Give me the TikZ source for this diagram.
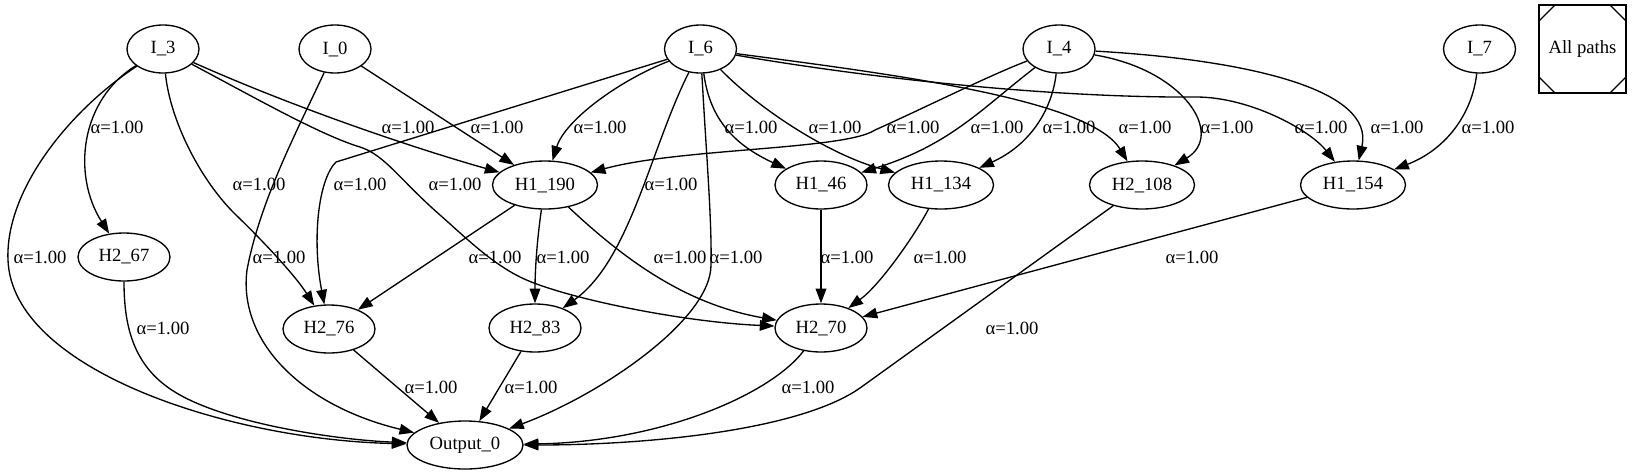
\documentclass[tikz,border=0pt]{standalone}
\usepackage{fontspec}
\setmainfont{Liberation Serif}
\usetikzlibrary{arrows.meta,calc,shapes.geometric}
\begin{document}
\begin{tikzpicture}[x=0.75pt,y=-0.75pt,
  every node/.style={font=\fontsize{14pt}{16pt}\selectfont, inner sep=0pt},
  nd/.style={draw, ellipse, line width=1pt, minimum height=36pt, minimum width=54pt},
  wmid/.style={minimum width=69pt},
  wbig/.style={minimum width=78.75pt},
  edge/.style={line width=1pt, -{Triangle[length=11pt,width=8pt]}},
  lbl/.style={}]
\useasboundingbox (0,0) rectangle (1633,475);

% input layer
\node[nd] (I3) at (163,49) {I\_3};
\node[nd] (I0) at (335,49) {I\_0};
\node[nd] (I6) at (700.5,49) {I\_6};
\node[nd] (I4) at (1059,49) {I\_4};
\node[nd] (I7) at (1479.5,49) {I\_7};
\node[draw, line width=1pt, outer sep=0pt, minimum width=65.25pt, minimum height=66pt] (AP) at (1582.5,49) {All paths};
\draw[line width=1pt] ($(AP.north west)+(0,16)$) -- ($(AP.north west)+(16,0)$);
\draw[line width=1pt] ($(AP.north east)+(0,16)$) -- ($(AP.north east)+(-16,0)$);
\draw[line width=1pt] ($(AP.south west)+(0,-16)$) -- ($(AP.south west)+(16,0)$);
\draw[line width=1pt] ($(AP.south east)+(0,-16)$) -- ($(AP.south east)+(-16,0)$);

% hidden layers
\node[nd,wbig] (H1190) at (545,185) {H1\_190};
\node[nd,wmid] (H146) at (821,185) {H1\_46};
\node[nd,wbig] (H1134) at (941,185) {H1\_134};
\node[nd,wbig] (H2108) at (1142,185) {H2\_108};
\node[nd,wbig] (H1154) at (1353,185) {H1\_154};
\node[nd,wmid] (H267) at (124,257) {H2\_67};
\node[nd,wmid] (H276) at (329,329) {H2\_76};
\node[nd,wmid] (H283) at (535,328) {H2\_83};
\node[nd,wmid] (H270) at (821,328) {H2\_70};
\node[nd,minimum width=87pt] (Out) at (465,445) {Output\_0};

% edges from I_3
\draw[edge] (I3) .. controls (80,100) and (72,175) .. (H267);
\draw[edge] (I3) .. controls (70,110) and (5,190) .. (8,260) .. controls (12,370) and (230,440) .. (Out);
\draw[edge] (I3) .. controls (170,120) and (200,180) .. (236,215) .. controls (260,238) and (295,275) .. (H276);
\draw[edge] (I3) .. controls (300,110) and (420,150) .. (H1190);
\draw[edge] (I3) .. controls (250,95) and (320,135) .. (360,147) .. controls (385,155) and (400,180) .. (440,215) .. controls (465,237) and (490,262) .. (520,277) .. controls (560,297) and (680,322) .. (H270);
% edges from I_0
\draw[edge] (I0) -- (H1190);
\draw[edge] (I0) .. controls (300,125) and (260,200) .. (247,270) .. controls (238,340) and (300,405) .. (Out);
% edges from I_6
\coordinate (b6) at (336,162);
\draw[edge] (I6) -- (b6) .. controls (318,180) and (312,240) .. (H276);
\draw[edge] (I6) .. controls (620,80) and (565,120) .. (H1190);
\draw[edge] (I6) .. controls (650,150) and (630,260) .. (H283);
\draw[edge] (I6) .. controls (706,150) and (712,220) .. (711,265) .. controls (711,320) and (600,395) .. (Out);
\draw[edge] (I6) .. controls (710,120) and (735,145) .. (H146);
\draw[edge] (I6) .. controls (760,110) and (830,155) .. (H1134);
\draw[edge] (I6) .. controls (900,75) and (1090,100) .. (H2108);
\draw[edge] (I6) .. controls (880,80) and (1060,98) .. (1196,97) .. controls (1250,97) and (1310,130) .. (H1154);
% edges from I_4
\draw[edge] (I4) .. controls (990,75) and (920,110) .. (875,130) .. controls (845,150) and (680,148) .. (H1190);
\draw[edge] (I4) .. controls (980,110) and (950,145) .. (H146);
\draw[edge] (I4) .. controls (1052,110) and (1030,145) .. (H1134);
\draw[edge] (I4) .. controls (1185,70) and (1225,135) .. (H2108);
\draw[edge] (I4) .. controls (1250,60) and (1375,90) .. (H1154);
% edge from I_7
\draw[edge] (I7) .. controls (1472,115) and (1445,150) .. (H1154);
% hidden to hidden
\draw[edge] (H1190) -- (H276);
\draw[edge] (H1190) .. controls (537,240) and (535,270) .. (H283);
\draw[edge] (H1190) .. controls (630,265) and (690,305) .. (H270);
\draw[edge] (H146) -- (H270);
\draw[edge] (H1134) .. controls (915,235) and (880,285) .. (H270);
\draw[edge] (H1154) -- (H270);
% to output
\draw[edge] (H2108) -- (860,388) .. controls (800,430) and (650,445) .. (Out);
\draw[edge] (H267) .. controls (124,330) and (135,370) .. (180,395) .. controls (234,425) and (340,440) .. (Out);
\draw[edge] (H276) -- (Out);
\draw[edge] (H283) -- (Out);
\draw[edge] (H270) .. controls (770,395) and (660,442) .. (Out);

% labels
\node[lbl] (l1) at (117,127) {α=1.00};
\node[lbl] (l2) at (408,127) {α=1.00};
\node[lbl] (l3) at (497,127) {α=1.00};
\node[lbl] (l4) at (600,127) {α=1.00};
\node[lbl] (l5) at (751,127) {α=1.00};
\node[lbl] (l6) at (835,127) {α=1.00};
\node[lbl] (l7) at (913,127) {α=1.00};
\node[lbl] (l8) at (997,127) {α=1.00};
\node[lbl] (l9) at (1069,127) {α=1.00};
\node[lbl] (l10) at (1145,127) {α=1.00};
\node[lbl] (l11) at (1227,127) {α=1.00};
\node[lbl] (l12) at (1321,127) {α=1.00};
\node[lbl] (l13) at (1397,127) {α=1.00};
\node[lbl] (l14) at (1488,127) {α=1.00};
\node[lbl] (l15) at (259,184) {α=1.00};
\node[lbl] (l16) at (360,184) {α=1.00};
\node[lbl] (l17) at (455,184) {α=1.00};
\node[lbl] (l18) at (671,184) {α=1.00};
\node[lbl] (l19) at (40,257) {α=1.00};
\node[lbl] (l20) at (279,257) {α=1.00};
\node[lbl] (l21) at (495,257) {α=1.00};
\node[lbl] (l22) at (563,257) {α=1.00};
\node[lbl] (l23) at (680,257) {α=1.00};
\node[lbl] (l24) at (736,257) {α=1.00};
\node[lbl] (l25) at (847,257) {α=1.00};
\node[lbl] (l26) at (940,257) {α=1.00};
\node[lbl] (l27) at (1192,257) {α=1.00};
\node[lbl] (l28) at (163,328) {α=1.00};
\node[lbl] (l29) at (1012,328) {α=1.00};
\node[lbl] (l30) at (431,387) {α=1.00};
\node[lbl] (l31) at (531,387) {α=1.00};
\node[lbl] (l32) at (808,387) {α=1.00};
\end{tikzpicture}
\end{document}
